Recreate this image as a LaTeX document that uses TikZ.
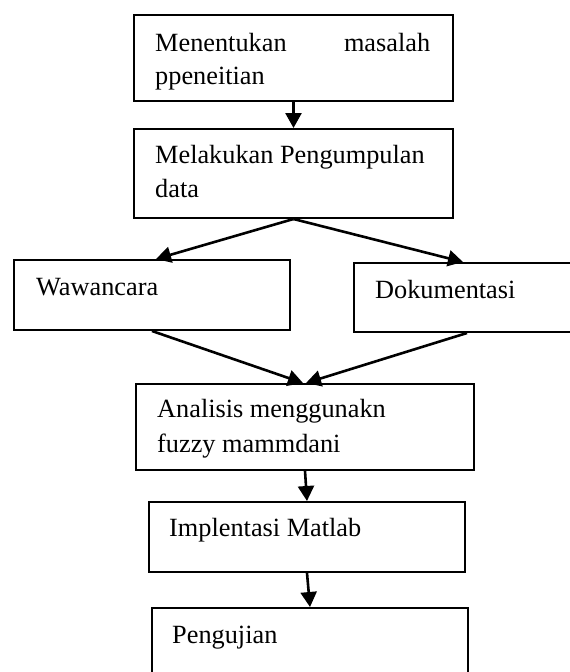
\documentclass[tikz,border=0pt]{standalone}
\usepackage{fontspec}
\setmainfont{Liberation Serif}
\usetikzlibrary{arrows.meta,calc}
\begin{document}
\begin{tikzpicture}[x=1pt,y=-1pt,
  box/.style={draw,line width=2pt,inner sep=0pt,anchor=north west},
  txt/.style={anchor=base west,inner sep=0pt,font=\fontsize{26.3}{34}\selectfont},
  arr/.style={line width=2.6pt,-{Triangle[length=15pt,width=16pt]}}]
\useasboundingbox (0,0) rectangle (570,672);
\clip (0,0) rectangle (570,672);
% boxes
\node[box,minimum width=319pt,minimum height=86pt] (b1) at (133,14) {};
\node[box,minimum width=319pt,minimum height=89pt] (b2) at (133,128) {};
\node[box,minimum width=276pt,minimum height=70pt] (b3) at (13,259) {};
\node[box,minimum width=250pt,minimum height=69pt] (b4) at (353,262) {};
\node[box,minimum width=338pt,minimum height=86pt] (b5) at (135,383) {};
\node[box,minimum width=316pt,minimum height=70pt] (b6) at (148,501) {};
\node[box,minimum width=316pt,minimum height=80pt] (b7) at (151,607) {};
% texts
\node[txt] (t1a) at (155,51) {\makebox[275pt][s]{Menentukan masalah}};
\node[txt] (t1b) at (155,84) {ppeneitian};
\node[txt] (t2a) at (155,163) {Melakukan Pengumpulan};
\node[txt] (t2b) at (155,197) {data};
\node[txt] (t3) at (36,295) {Wawancara};
\node[txt] (t4) at (375,298) {Dokumentasi};
\node[txt] (t5a) at (157,417) {Analisis menggunakn};
\node[txt] (t5b) at (157,452) {fuzzy mammdani};
\node[txt] (t6) at (169,536) {Implentasi Matlab};
\node[txt] (t7) at (172,643) {Pengujian};
% connectors
\draw[arr] (b1.south) -- (b2.north);
\draw[arr] (b2.south) -- ($(b3.north)+(4,0)$);
\draw[arr] (b2.south) -- ($(b4.north west)+(110,0)$);
\draw[arr] (b3.south) -- ($(b5.north)+(-2,0)$);
\draw[arr] ($(b4.south west)+(114,0)$) -- ($(b5.north)+(1,0)$);
\draw[arr] (b5.south) -- (b6.north);
\draw[arr] (b6.south) -- (b7.north);
\end{tikzpicture}
\end{document}
